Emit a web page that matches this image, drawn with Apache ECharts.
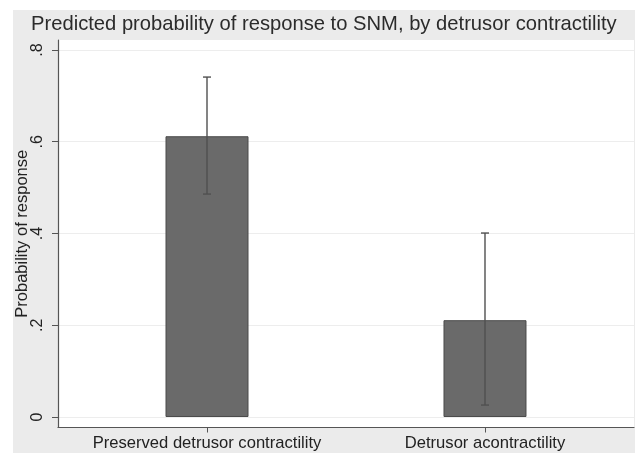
<!DOCTYPE html>
<html>
<head>
<meta charset="utf-8">
<script src="https://cdn.jsdelivr.net/npm/echarts@6/dist/echarts.min.js"></script>
<style>html,body{margin:0;padding:0;background:#fff}#c{width:635px;height:453px}</style>
</head>
<body>
<div id="c"></div>
<script>
const categories = ['Preserved detrusor contractility', 'Detrusor acontractility'];
const probability = [0.612, 0.211];
const ciLower = [0.486, 0.026];
const ciUpper = [0.741, 0.401];
const yTicks = [0, 0.2, 0.4, 0.6, 0.8];
const yTickLabels = ['0', '.2', '.4', '.6', '.8'];

const chart = echarts.init(document.getElementById('c'), null, {renderer: 'canvas'});
const FONT = '"Liberation Sans", Arial, Helvetica, sans-serif';
const barData = categories.map((c, i) => [i, probability[i]]);
const errData = categories.map((c, i) => [i, ciLower[i], ciUpper[i]]);

chart.setOption({
  backgroundColor: '#ffffff',
  animation: false,
  graphic: [{
    type: 'rect', z: -10, silent: true,
    shape: {x: 13, y: 10, width: 622, height: 443},
    style: {fill: '#ebebeb'}
  }],
  title: {
    text: 'Predicted probability of response to SNM, by detrusor contractility',
    left: 26, top: 9,
    textStyle: {fontFamily: FONT, fontSize: 20.2, fontWeight: 'normal', color: '#2b2b2b'}
  },
  grid: {
    left: 58, right: 1, top: 40, bottom: 25.5,
    show: true, backgroundColor: '#ffffff', borderWidth: 0
  },
  xAxis: {
    type: 'value', min: -0.536, max: 1.536,
    axisLine: {show: true, onZero: false, lineStyle: {color: '#555', width: 1.2}},
    axisTick: {show: true, customValues: [0, 1], length: 5, lineStyle: {color: '#555'}},
    axisLabel: {
      customValues: [0, 1], margin: 7,
      formatter: v => categories[Math.round(v)],
      fontFamily: FONT, fontSize: 16.6, color: '#222'
    },
    splitLine: {show: false}
  },
  yAxis: {
    type: 'value', min: -0.0229, max: 0.8218,
    name: 'Probability of response', nameLocation: 'middle', nameGap: 27,
    nameMoveOverlap: false,
    nameTextStyle: {fontFamily: FONT, fontSize: 16.5, color: '#222'},
    axisLine: {show: true, onZero: false, lineStyle: {color: '#555', width: 1.2}},
    axisTick: {show: true, customValues: yTicks, length: 6, lineStyle: {color: '#555'}},
    axisLabel: {
      customValues: yTicks, rotate: 90, margin: 12,
      formatter: v => yTickLabels[yTicks.findIndex(t => Math.abs(t - v) < 1e-6)],
      fontFamily: FONT, fontSize: 16, color: '#222'
    },
    splitLine: {show: true, lineStyle: {color: '#ededed', width: 1}}
  },
  series: [{
    type: 'bar',
    data: barData,
    barWidth: 83,
    itemStyle: {color: '#6a6a6a', borderColor: '#4a4a4a', borderWidth: 1}
  }, {
    type: 'custom',
    data: errData,
    z: 10,
    renderItem: function (params, api) {
      const x = api.value(0);
      const lo = api.coord([x, api.value(1)]);
      const hi = api.coord([x, api.value(2)]);
      const cap = 4;
      const st = {stroke: '#505050', lineWidth: 1.4};
      return {
        type: 'group',
        children: [
          {type: 'line', shape: {x1: lo[0], y1: lo[1], x2: hi[0], y2: hi[1]}, style: st},
          {type: 'line', shape: {x1: hi[0] - cap, y1: hi[1], x2: hi[0] + cap, y2: hi[1]}, style: st},
          {type: 'line', shape: {x1: lo[0] - cap, y1: lo[1], x2: lo[0] + cap, y2: lo[1]}, style: st}
        ]
      };
    }
  }]
});
</script>
</body>
</html>
